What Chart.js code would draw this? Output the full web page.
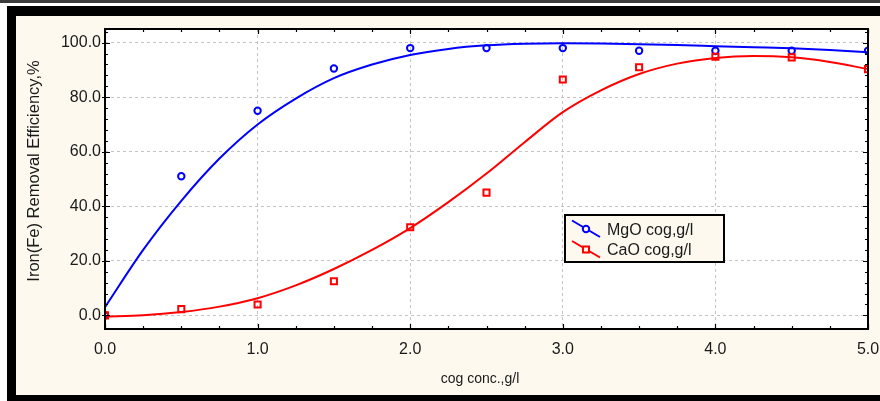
<!DOCTYPE html>
<html>
<head>
<meta charset="utf-8">
<script src="https://cdn.jsdelivr.net/npm/chart.js@4.4.1/dist/chart.umd.min.js"></script>
<style>
  html, body { margin: 0; padding: 0; background: #ffffff; }
  #wrap { position: relative; width: 880px; height: 401px; }
  canvas { display: block; }
</style>
</head>
<body>
<div id="wrap"><canvas id="c" width="880" height="401"></canvas></div>
<script>
// Measured points
const concentration = [0, 0.5, 1, 1.5, 2, 2.5, 3, 3.5, 4, 4.5, 5];
const mgoRemoval = [0, 51, 75, 90.5, 98, 98, 98, 97, 97, 97, 97];
const caoRemoval = [0, 2.3, 4, 12.5, 32.3, 45, 86.5, 91, 94.8, 94.6, 90.3];

// Smoothed fit curves
const fitConcentration = [0, 0.25, 0.5, 0.75, 1, 1.25, 1.5, 1.75, 2, 2.25, 2.5, 2.75, 3, 3.25, 3.5, 3.75, 4, 4.25, 4.5, 4.75, 5];
const mgoFit = [3, 24, 42, 57.5, 70, 79.5, 87, 92, 95.5, 97.7, 99, 99.6, 99.8, 99.7, 99.4, 99.1, 98.7, 98.3, 97.9, 97.3, 96.5];
const caoFit = [-0.5, 0, 1.2, 3.2, 6.3, 11, 17, 24, 32, 41.5, 52, 63.5, 74.5, 82.5, 88.5, 92.3, 94.4, 95.1, 94.6, 92.9, 90.3];

// Axis ticks
const xTicks = [0, 1, 2, 3, 4, 5];
const yTicks = [0, 20, 40, 60, 80, 100];
const xMinorStep = 0.25;
const yMinorStep = 4;

const seriesLabels = ['MgO cog,g/l', 'CaO cog,g/l'];
const xTitle = 'cog conc.,g/l';
const yTitle = 'Iron(Fe) Removal Efficiency,%';
const BLUE = '#0000ff';
const RED = '#ff0000';
const CREAM = '#fdf9ef';
const TEXT = '#1a1a1a';
const FONT = '"Liberation Sans", Arial, sans-serif';

const pts = (xs, ys) => xs.map((x, i) => ({ x, y: ys[i] }));

// Page frame, plot background, tick marks, axis titles and legend
const framePlugin = {
  id: 'frame',
  beforeDraw(chart) {
    const ctx = chart.ctx;
    const a = chart.chartArea;
    ctx.save();
    ctx.fillStyle = '#ffffff';
    ctx.fillRect(0, 0, 880, 401);
    ctx.fillStyle = '#3c3c3c';
    ctx.fillRect(0, 0, 880, 3);
    ctx.fillStyle = '#000000';
    ctx.fillRect(7, 6, 873, 10);
    ctx.fillRect(7, 6, 9, 395);
    ctx.fillRect(7, 395, 873, 6);
    ctx.fillStyle = CREAM;
    ctx.fillRect(16, 16, 864, 379);
    ctx.fillStyle = '#ffffff';
    ctx.fillRect(a.left, a.top, a.right - a.left, a.bottom - a.top);
    ctx.restore();
  },
  afterDatasetsDraw(chart) {
    const ctx = chart.ctx;
    const a = chart.chartArea;
    const xs = chart.scales.x, ys = chart.scales.y;
    ctx.save();
    ctx.strokeStyle = '#000000';
    ctx.lineWidth = 1.2;
    ctx.beginPath();
    // minor and major ticks on all four sides, pointing inward
    for (let v = xs.min; v <= xs.max + 1e-9; v += xMinorStep) {
      const px = Math.round(xs.getPixelForValue(v)) + 0.5;
      const major = xTicks.some(t => Math.abs(t - v) < 1e-9);
      const len = major ? 5 : 3;
      ctx.moveTo(px, a.bottom); ctx.lineTo(px, a.bottom - len);
      ctx.moveTo(px, a.top); ctx.lineTo(px, a.top + len);
    }
    for (let v = 0; v <= ys.max + 1e-9; v += yMinorStep) {
      const py = Math.round(ys.getPixelForValue(v)) + 0.5;
      const major = yTicks.some(t => Math.abs(t - v) < 1e-9);
      const len = major ? 5 : 3;
      ctx.moveTo(a.left - (major ? 3 : 0), py); ctx.lineTo(a.left + len, py);
      ctx.moveTo(a.right, py); ctx.lineTo(a.right - len, py);
    }
    ctx.stroke();
    ctx.lineWidth = 2;
    ctx.strokeRect(a.left, a.top, a.right - a.left, a.bottom - a.top);
    ctx.restore();

    // axis titles
    ctx.save();
    ctx.fillStyle = TEXT;
    ctx.textAlign = 'center';
    ctx.textBaseline = 'middle';
    ctx.font = '14px ' + FONT;
    ctx.fillText(xTitle, 480, 379);
    ctx.translate(34, 171);
    ctx.rotate(-Math.PI / 2);
    ctx.font = '16.5px ' + FONT;
    ctx.fillText(yTitle, 0, 0);
    ctx.restore();

    // legend box
    const lx = 565, ly = 215, lw = 159, lh = 47;
    ctx.save();
    ctx.fillStyle = CREAM;
    ctx.fillRect(lx, ly, lw, lh);
    ctx.strokeStyle = '#000000';
    ctx.lineWidth = 2;
    ctx.strokeRect(lx, ly, lw, lh);
    const entries = [
      { color: BLUE, style: 'circle', y: 229 },
      { color: RED, style: 'rect', y: 249.5 }
    ];
    entries.forEach((e, i) => {
      ctx.strokeStyle = e.color;
      ctx.lineWidth = 2;
      ctx.beginPath();
      ctx.moveTo(572, e.y - 8.5);
      ctx.lineTo(600, e.y + 8);
      ctx.stroke();
      ctx.fillStyle = CREAM;
      ctx.beginPath();
      if (e.style === 'circle') {
        ctx.arc(586, e.y, 3.2, 0, Math.PI * 2);
      } else {
        ctx.rect(583, e.y - 3, 6, 6);
      }
      ctx.fill();
      ctx.stroke();
      ctx.fillStyle = TEXT;
      ctx.font = '16px ' + FONT;
      ctx.textBaseline = 'middle';
      ctx.textAlign = 'left';
      ctx.fillText(seriesLabels[i], 607, e.y + 1.5);
    });
    ctx.restore();
  }
};

new Chart(document.getElementById('c'), {
  type: 'scatter',
  data: {
    datasets: [
      {
        label: seriesLabels[0] + ' fit',
        data: pts(fitConcentration, mgoFit),
        showLine: true,
        borderColor: BLUE,
        borderWidth: 2,
        pointRadius: 0,
        cubicInterpolationMode: 'monotone',
        clip: 0,
        order: 4
      },
      {
        label: seriesLabels[1] + ' fit',
        data: pts(fitConcentration, caoFit),
        showLine: true,
        borderColor: RED,
        borderWidth: 2,
        pointRadius: 0,
        cubicInterpolationMode: 'monotone',
        clip: 0,
        order: 3
      },
      {
        label: seriesLabels[0],
        data: pts(concentration, mgoRemoval),
        showLine: false,
        pointStyle: 'circle',
        pointRadius: 3.2,
        borderWidth: 2,
        borderColor: BLUE,
        backgroundColor: 'rgba(0,0,0,0)',
        clip: 0,
        order: 2
      },
      {
        label: seriesLabels[1],
        data: pts(concentration, caoRemoval),
        showLine: false,
        pointStyle: 'rect',
        pointRadius: 4.3,
        borderWidth: 2,
        borderColor: RED,
        backgroundColor: 'rgba(0,0,0,0)',
        clip: 0,
        order: 1
      }
    ]
  },
  options: {
    responsive: false,
    animation: false,
    events: [],
    layout: { padding: { top: 29, right: 0, left: 0, bottom: 0 } },
    plugins: { legend: { display: false }, tooltip: { enabled: false } },
    scales: {
      x: {
        type: 'linear',
        min: 0,
        max: 5,
        afterBuildTicks: s => { s.ticks = xTicks.map(v => ({ value: v })); },
        afterFit: s => { s.height = 72; s.paddingRight = 12; },
        grid: { color: '#c4c4c4', lineWidth: 1, drawTicks: false },
        border: { display: false, dash: [3, 3] },
        ticks: {
          color: TEXT,
          font: { family: FONT, size: 16 },
          padding: 11,
          maxRotation: 0,
          callback: v => Number(v).toFixed(1)
        },
        title: { display: false }
      },
      y: {
        type: 'linear',
        min: -5,
        max: 105,
        afterBuildTicks: s => { s.ticks = yTicks.map(v => ({ value: v })); },
        afterFit: s => { s.width = 105; },
        grid: { color: '#c4c4c4', lineWidth: 1, drawTicks: false },
        border: { display: false, dash: [3, 3] },
        ticks: {
          color: TEXT,
          font: { family: FONT, size: 16 },
          padding: 4,
          callback: v => Number(v).toFixed(1)
        },
        title: { display: false }
      }
    }
  },
  plugins: [framePlugin]
});
</script>
</body>
</html>
